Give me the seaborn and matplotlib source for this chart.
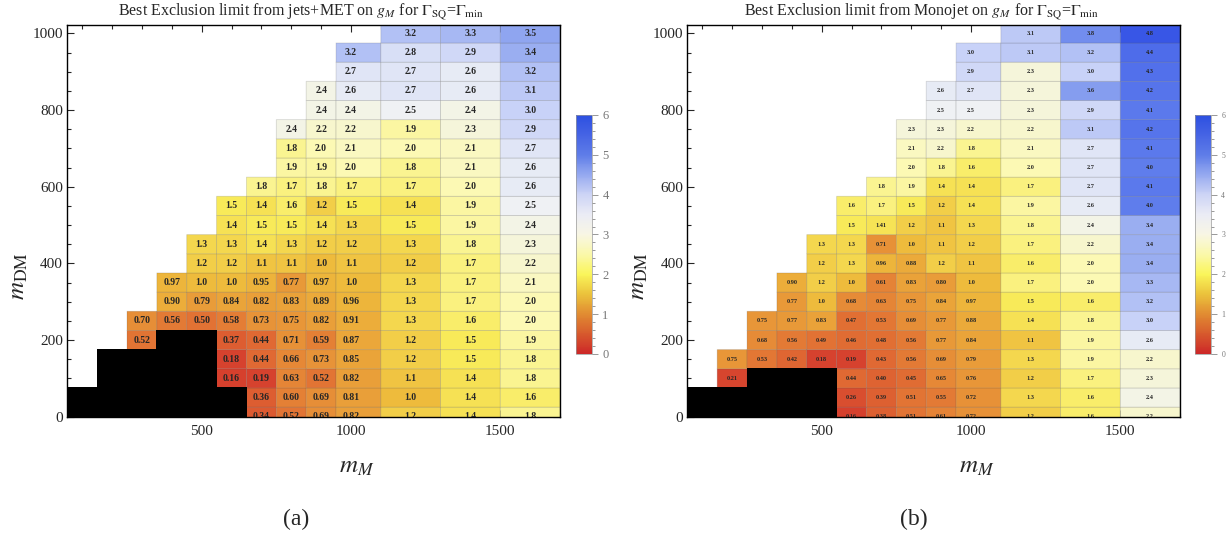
import numpy as np
import matplotlib
matplotlib.use("Agg")
import matplotlib.pyplot as plt
from matplotlib.colors import Normalize, ListedColormap
from matplotlib.cm import ScalarMappable
from matplotlib.ticker import MultipleLocator
import seaborn as sns

N = np.nan   # no point
B = -1.0     # excluded point, drawn black

# mediator masses (x) and DM masses (y)
m_med = [100, 200, 300, 400, 500, 600, 700, 800, 900, 1000, 1200, 1400, 1600]
m_dm = list(range(0, 1001, 50))

# limit on g_M, one row per m_DM from 0 up to 1000
jets_met = [
    [B, B, B, B, B, B, 0.34, 0.52, 0.69, 0.82, 1.2, 1.4, 1.8],
    [B, B, B, B, B, B, 0.36, 0.60, 0.69, 0.81, 1.0, 1.4, 1.6],
    [N, B, B, B, B, 0.16, 0.19, 0.63, 0.52, 0.82, 1.1, 1.4, 1.8],
    [N, B, B, B, B, 0.18, 0.44, 0.66, 0.73, 0.85, 1.2, 1.5, 1.8],
    [N, N, 0.52, B, B, 0.37, 0.44, 0.71, 0.59, 0.87, 1.2, 1.5, 1.9],
    [N, N, 0.70, 0.56, 0.50, 0.58, 0.73, 0.75, 0.82, 0.91, 1.3, 1.6, 2.0],
    [N, N, N, 0.90, 0.79, 0.84, 0.82, 0.83, 0.89, 0.96, 1.3, 1.7, 2.0],
    [N, N, N, 0.97, 1.0, 1.0, 0.95, 0.77, 0.97, 1.0, 1.3, 1.7, 2.1],
    [N, N, N, N, 1.2, 1.2, 1.1, 1.1, 1.0, 1.1, 1.2, 1.7, 2.2],
    [N, N, N, N, 1.3, 1.3, 1.4, 1.3, 1.2, 1.2, 1.3, 1.8, 2.3],
    [N, N, N, N, N, 1.4, 1.5, 1.5, 1.4, 1.3, 1.5, 1.9, 2.4],
    [N, N, N, N, N, 1.5, 1.4, 1.6, 1.2, 1.5, 1.4, 1.9, 2.5],
    [N, N, N, N, N, N, 1.8, 1.7, 1.8, 1.7, 1.7, 2.0, 2.6],
    [N, N, N, N, N, N, N, 1.9, 1.9, 2.0, 1.8, 2.1, 2.6],
    [N, N, N, N, N, N, N, 1.8, 2.0, 2.1, 2.0, 2.1, 2.7],
    [N, N, N, N, N, N, N, 2.4, 2.2, 2.2, 1.9, 2.3, 2.9],
    [N, N, N, N, N, N, N, N, 2.4, 2.4, 2.5, 2.4, 3.0],
    [N, N, N, N, N, N, N, N, 2.4, 2.6, 2.7, 2.6, 3.1],
    [N, N, N, N, N, N, N, N, N, 2.7, 2.7, 2.6, 3.2],
    [N, N, N, N, N, N, N, N, N, 3.2, 2.8, 2.9, 3.4],
    [N, N, N, N, N, N, N, N, N, N, 3.2, 3.3, 3.5],
]

monojet = [
    [B, B, B, B, B, 0.16, 0.38, 0.51, 0.61, 0.72, 1.2, 1.6, 2.2],
    [B, B, B, B, B, 0.26, 0.39, 0.51, 0.55, 0.72, 1.3, 1.6, 2.4],
    [N, 0.21, B, B, B, 0.44, 0.40, 0.45, 0.65, 0.76, 1.2, 1.7, 2.3],
    [N, 0.75, 0.53, 0.42, 0.18, 0.19, 0.43, 0.56, 0.69, 0.79, 1.3, 1.9, 2.2],
    [N, N, 0.68, 0.56, 0.49, 0.46, 0.48, 0.56, 0.77, 0.84, 1.1, 1.9, 2.6],
    [N, N, 0.75, 0.77, 0.83, 0.47, 0.53, 0.69, 0.77, 0.88, 1.4, 1.8, 3.0],
    [N, N, N, 0.77, 1.0, 0.68, 0.63, 0.75, 0.84, 0.97, 1.5, 1.6, 3.2],
    [N, N, N, 0.90, 1.2, 1.0, 0.61, 0.83, 0.80, 1.0, 1.7, 2.0, 3.3],
    [N, N, N, N, 1.2, 1.3, 0.96, 0.88, 1.2, 1.1, 1.6, 2.0, 3.4],
    [N, N, N, N, 1.3, 1.3, 0.71, 1.0, 1.1, 1.2, 1.7, 2.2, 3.4],
    [N, N, N, N, N, 1.5, 1.41, 1.2, 1.1, 1.3, 1.8, 2.4, 3.4],
    [N, N, N, N, N, 1.6, 1.7, 1.5, 1.2, 1.4, 1.9, 2.6, 4.0],
    [N, N, N, N, N, N, 1.8, 1.9, 1.4, 1.4, 1.7, 2.7, 4.1],
    [N, N, N, N, N, N, N, 2.0, 1.8, 1.6, 2.0, 2.7, 4.0],
    [N, N, N, N, N, N, N, 2.1, 2.2, 1.8, 2.1, 2.7, 4.1],
    [N, N, N, N, N, N, N, 2.3, 2.3, 2.2, 2.2, 3.1, 4.2],
    [N, N, N, N, N, N, N, N, 2.5, 2.5, 2.3, 2.9, 4.1],
    [N, N, N, N, N, N, N, N, 2.6, 2.7, 2.3, 3.6, 4.2],
    [N, N, N, N, N, N, N, N, N, 2.9, 2.3, 3.0, 4.3],
    [N, N, N, N, N, N, N, N, N, 3.0, 3.1, 3.2, 4.4],
    [N, N, N, N, N, N, N, N, N, N, 3.1, 3.8, 4.8],
]

titles = [
    r"Best Exclusion limit from jets+MET on $g_M$ for $\Gamma_{\rm SQ}$=$\Gamma_{\rm min}$",
    r"Best Exclusion limit from Monojet on $g_M$ for $\Gamma_{\rm SQ}$=$\Gamma_{\rm min}$",
]

sns.set_style("ticks")
plt.rcParams['font.family'] = ['Liberation Serif', 'DejaVu Serif']
plt.rcParams['mathtext.fontset'] = 'stix'

# colours of the cells (0 .. 5 in steps of 0.5) and of the legend bar (0 .. 6)
cell_cmap = sns.blend_palette(
    ["#d0282a", "#e27334", "#eebb3c", "#f8eb5a", "#fcf9b4", "#f0f2f4",
     "#c8d2f8", "#90a6f0", "#5f7dec", "#4a68ea", "#2d4be4"], as_cmap=True)
bar_cmap = sns.blend_palette(
    ["#cd2828", "#d75a2d", "#e18c32", "#ebc33c", "#faf55a", "#faf8aa",
     "#f8f6e4", "#ebecf5", "#cdd4f5", "#96aaf0", "#5f7de8", "#4664e4", "#2d50e1"],
    as_cmap=True)


def edges(p):
    p = np.asarray(p, float)
    mid = (p[:-1] + p[1:]) / 2
    return np.concatenate([[p[0] - (p[1] - p[0]) / 2], mid, [p[-1] + (p[-1] - p[-2]) / 2]])


def label(v):
    if v < 1:
        return f"{v:.2f}"
    return f"{v:.1f}" if round(v, 1) == v else f"{v:.2f}"


def panel(ax, cax, data, title, fs_cell, fs_bar):
    z = np.array(data, float)
    xe, ye = edges(m_med), edges(m_dm)
    vals = np.ma.masked_where(~(z >= 0), z)
    blk = np.ma.masked_where(~(z == B), z)
    ax.pcolor(xe, ye, vals, cmap=cell_cmap, vmin=0, vmax=5,
              edgecolors=(0.3, 0.3, 0.3, 0.2), linewidth=0.6)
    ax.pcolor(xe, ye, blk, cmap=ListedColormap(["black"]), edgecolors="none")
    for i, y in enumerate(m_dm):
        for j, x in enumerate(m_med):
            if z[i, j] >= 0:
                ax.text(x, y, label(z[i, j]), ha="center", va="center",
                        fontsize=fs_cell, fontweight="bold", clip_on=True)
    ax.set_xlim(50, 1700)
    ax.set_ylim(0, 1022)
    ax.xaxis.set_major_locator(MultipleLocator(500))
    ax.xaxis.set_minor_locator(MultipleLocator(100))
    ax.yaxis.set_major_locator(MultipleLocator(200))
    ax.yaxis.set_minor_locator(MultipleLocator(50))
    ax.tick_params(which="both", direction="in", top=True, right=True,
                   labelsize=11, width=0.8)
    ax.tick_params(axis="x", pad=6)
    ax.tick_params(axis="y", pad=3)
    ax.tick_params(which="major", length=5)
    ax.tick_params(which="minor", length=3)
    for s in ax.spines.values():
        s.set_color("black")
        s.set_linewidth(1.0)
    ax.set_title(title, fontsize=11.5, x=0.475, pad=6)
    ax.set_xlabel(r"$m_M$", fontsize=18)
    ax.set_ylabel(r"$m_{\rm DM}$", fontsize=18)
    ax.xaxis.set_label_coords(0.588, -0.1)
    ax.yaxis.set_label_coords(-0.075, 0.36)

    cb = fig.colorbar(ScalarMappable(norm=Normalize(0, 6), cmap=bar_cmap), cax=cax)
    cb.set_ticks(range(7))
    cb.ax.yaxis.set_minor_locator(MultipleLocator(0.2))
    cb.ax.tick_params(which="both", colors="#888888", labelcolor="#777777",
                      labelsize=fs_bar, width=0.6)
    cb.ax.tick_params(which="major", length=4)
    cb.ax.tick_params(which="minor", length=2)
    cb.outline.set_edgecolor("#999999")
    cb.outline.set_linewidth(0.5)


fig = plt.figure(figsize=(12.3, 5.36), dpi=100)
ax_a = fig.add_axes([0.0547, 0.2226, 0.4006, 0.7308])
ax_b = fig.add_axes([0.5588, 0.2226, 0.4006, 0.7308])
cax_a = fig.add_axes([0.4683, 0.3396, 0.013, 0.4459])
cax_b = fig.add_axes([0.9715, 0.3396, 0.013, 0.4459])

panel(ax_a, cax_a, jets_met, titles[0], 7, 9)
panel(ax_b, cax_b, monojet, titles[1], 4.5, 5.5)

fig.text(296 / 1230, 0.03, "(a)", fontsize=17, ha="center", va="center")
fig.text(914 / 1230, 0.03, "(b)", fontsize=17, ha="center", va="center")

fig.savefig("out.png", dpi=100)
